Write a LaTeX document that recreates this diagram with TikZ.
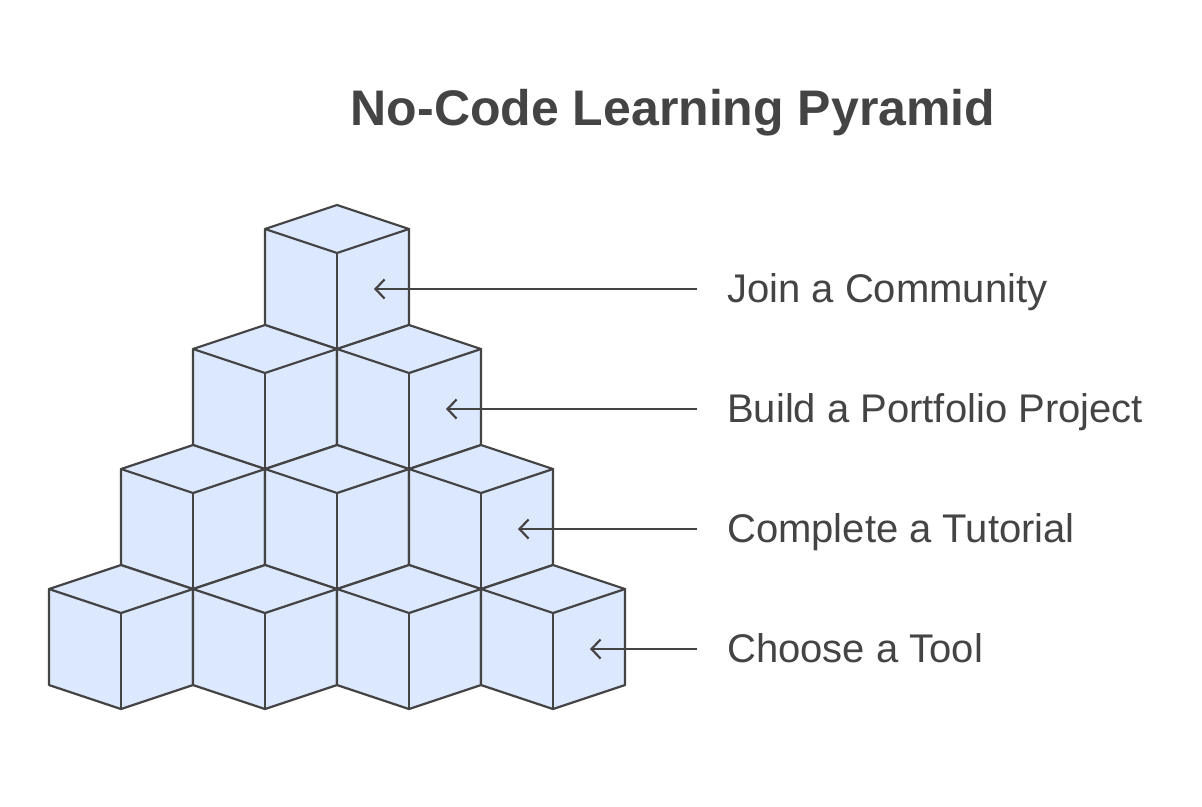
\documentclass[tikz,border=0pt]{standalone}
\usepackage{fontspec}
\setmainfont{Liberation Sans}
\usepackage{tikz}
\usetikzlibrary{arrows.meta, positioning}
\definecolor{mycube}{RGB}{220, 232, 254}
\definecolor{mygray}{RGB}{68, 68, 68}
\tikzset{
  cubeface/.style = {draw = mygray, fill = mycube, line width = 2.2pt, line join = round},
  cubeedge/.style = {draw = mygray, line width = 2.2pt, line cap = round},
  steplabel/.style = {anchor = base west, inner sep = 0pt, text = mygray, font = \fontsize{40}{48}\selectfont},
  pointer/.style = {draw = mygray, line width = 2.2pt, {Straight Barb[length=9pt, width=19pt, line width=2.2pt]}-}
}
% #1 = x of front edge, #2 = y of top corner
\newcommand{\pyrcube}[2]{
\filldraw[cubeface] (#1, #2) -- ++(72, 24) -- ++(0, 96) -- ++(-72, 24) -- ++(-72, -24) -- ++(0, -96) -- cycle;
\draw[cubeedge] (#1, #2) ++(-72, 24) -- ++(72, 24) -- ++(72, -24);
\draw[cubeedge] (#1, #2) ++(0, 48) -- ++(0, 96);
}

\begin{document}
\begin{tikzpicture}[x = 1pt, y = -1pt]

\useasboundingbox[fill = white] (0, 0) rectangle (1202, 806);

\node[anchor = base, inner sep = 0pt, text = mygray, font = \fontsize{50}{60}\selectfont\bfseries] (title) at (673, 125) {No-Code Learning Pyramid};

% top row
\pyrcube{337}{205}
% third row
\pyrcube{265}{325}
\pyrcube{409}{325}
% second row
\pyrcube{193}{445}
\pyrcube{337}{445}
\pyrcube{481}{445}
% bottom row
\pyrcube{121}{565}
\pyrcube{265}{565}
\pyrcube{409}{565}
\pyrcube{553}{565}

% labels
\node[steplabel] (join) at (727, 302) {Join a Community};
\node[steplabel] (build) at (727, 422) {Build a Portfolio Project};
\node[steplabel] (complete) at (727, 542) {Complete a Tutorial};
\node[steplabel] (choose) at (727, 662) {Choose a Tool};

\coordinate (jointip) at (374, 289);
\coordinate (buildtip) at (446, 409);
\coordinate (completetip) at (518, 529);
\coordinate (choosetip) at (590, 649);

\draw[pointer] (jointip) -- ([xshift = -30pt, yshift = 13pt] join.base west);
\draw[pointer] (buildtip) -- ([xshift = -30pt, yshift = 13pt] build.base west);
\draw[pointer] (completetip) -- ([xshift = -30pt, yshift = 13pt] complete.base west);
\draw[pointer] (choosetip) -- ([xshift = -30pt, yshift = 13pt] choose.base west);

\end{tikzpicture}
\end{document}
